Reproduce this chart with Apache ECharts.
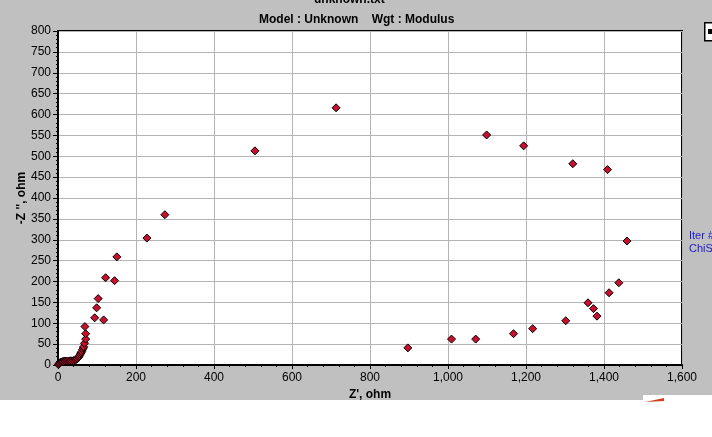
<!DOCTYPE html>
<html>
<head>
<meta charset="utf-8">
<script src="https://cdn.jsdelivr.net/npm/echarts@6/dist/echarts.min.js"></script>
<style>
  html, body { margin: 0; padding: 0; background: #fff; }
  #chart { width: 712px; height: 437px; }
</style>
</head>
<body>
<div id="chart"></div>
<script>
// Nyquist points
const zReal = [1, 3, 5, 8, 11, 14, 18, 22, 27, 31, 35, 40, 45, 48, 50, 53, 55, 57, 59, 61,
  63, 65, 66, 68, 71, 71, 69, 94, 117, 99, 103, 122, 145, 151, 228, 274, 505, 713,
  897, 1009, 1071, 1168, 1217, 1302, 1382, 1373, 1359, 1413, 1438, 1459, 1409, 1320, 1194, 1099];
const zImag = [1, 3, 5.5, 7, 8, 9, 9.5, 9.6, 9.6, 10, 10, 11, 12, 14, 16, 19, 22, 26, 29, 32,
  37, 41, 44, 52, 62, 75, 92, 113, 108, 137, 159, 209, 202, 259, 304, 360, 513, 616,
  41, 62, 62, 75, 87, 106, 117, 135, 149, 173, 197, 297, 468, 482, 525, 551];

const xTicks = [0, 1600, 200];
const yTicks = [0, 800, 50];

const fontFam = '"Liberation Sans Narrow", "Liberation Sans", Arial, sans-serif';

const chart = echarts.init(document.getElementById('chart'));

const option = {
  backgroundColor: '#fff',
  animation: false,
  graphic: [
    // grey window background
    { type: 'rect', left: 0, top: 0, z: -10, shape: { width: 712, height: 400 }, style: { fill: '#c0c0c0' } },
    { type: 'rect', left: 643, top: 395, z: -9, shape: { width: 69, height: 6 }, style: { fill: '#fff' } },
    { type: 'polygon', z: -8, shape: { points: [[645, 402], [664, 398], [664, 401]] }, style: { fill: '#d04020' } },
    { type: 'rect', left: 704, top: 22, shape: { width: 14, height: 18 }, style: { fill: '#fff', stroke: '#000', lineWidth: 1.5 } },
    { type: 'rect', left: 708, top: 29, shape: { width: 4, height: 5 }, style: { fill: '#000' } },
    { type: 'text', left: 349 - 35, top: -6, style: { text: 'unknown.txt', font: 'bold 12px ' + fontFam, fill: '#000' } },
    { type: 'text', left: 689, top: 229, style: { text: 'Iter #\nChiS', font: '11px ' + fontFam, fill: '#1a1acc', lineHeight: 13 } },
    // y axis title, placed by hand (v6 pushes axis names out past the labels)
    {
      type: 'text', x: 22, y: 198, rotation: Math.PI / 2,
      style: { text: "-Z '', ohm", font: 'bold 12px ' + fontFam, fill: '#000', align: 'center', verticalAlign: 'middle' }
    }
  ],
  title: {
    text: 'Model : Unknown    Wgt : Modulus',
    left: 254,
    top: 9,
    textStyle: { fontFamily: fontFam, fontSize: 12, fontWeight: 'bold', color: '#000' }
  },
  grid: {
    left: 58, right: 30, top: 31, bottom: 72,
    show: true,
    backgroundColor: '#fff',
    borderColor: '#000',
    borderWidth: 2
  },
  xAxis: {
    type: 'value',
    min: xTicks[0], max: xTicks[1], interval: xTicks[2],
    name: "Z', ohm",
    nameLocation: 'middle',
    nameGap: 22,
    nameTextStyle: { fontFamily: fontFam, fontSize: 12, fontWeight: 'bold', color: '#000' },
    axisLine: { lineStyle: { color: '#000', width: 2 } },
    axisTick: { length: 4, lineStyle: { color: '#000' } },
    minorTick: { show: true, splitNumber: 5, length: 2, lineStyle: { color: '#000' } },
    axisLabel: {
      fontFamily: fontFam, fontSize: 12, color: '#000', margin: 7,
      formatter: v => v.toLocaleString('en-US')
    },
    splitLine: { show: true, lineStyle: { color: '#b4b4b4', width: 1 } }
  },
  yAxis: {
    type: 'value',
    min: yTicks[0], max: yTicks[1], interval: yTicks[2],
    axisLine: { lineStyle: { color: '#000', width: 2 } },
    axisTick: { length: 5, lineStyle: { color: '#000' } },
    minorTick: { show: true, splitNumber: 5, length: 2, lineStyle: { color: '#000' } },
    axisLabel: { fontFamily: fontFam, fontSize: 12, color: '#000', margin: 7 },
    splitLine: { show: true, lineStyle: { color: '#b4b4b4', width: 1 } }
  },
  series: [{
    type: 'scatter',
    symbol: 'diamond',
    symbolSize: 8,
    itemStyle: { color: '#c8102e', borderColor: '#000', borderWidth: 1, opacity: 1 },
    data: zReal.map((x, i) => [x, zImag[i]])
  }]
};

chart.setOption(option);
</script>
</body>
</html>
